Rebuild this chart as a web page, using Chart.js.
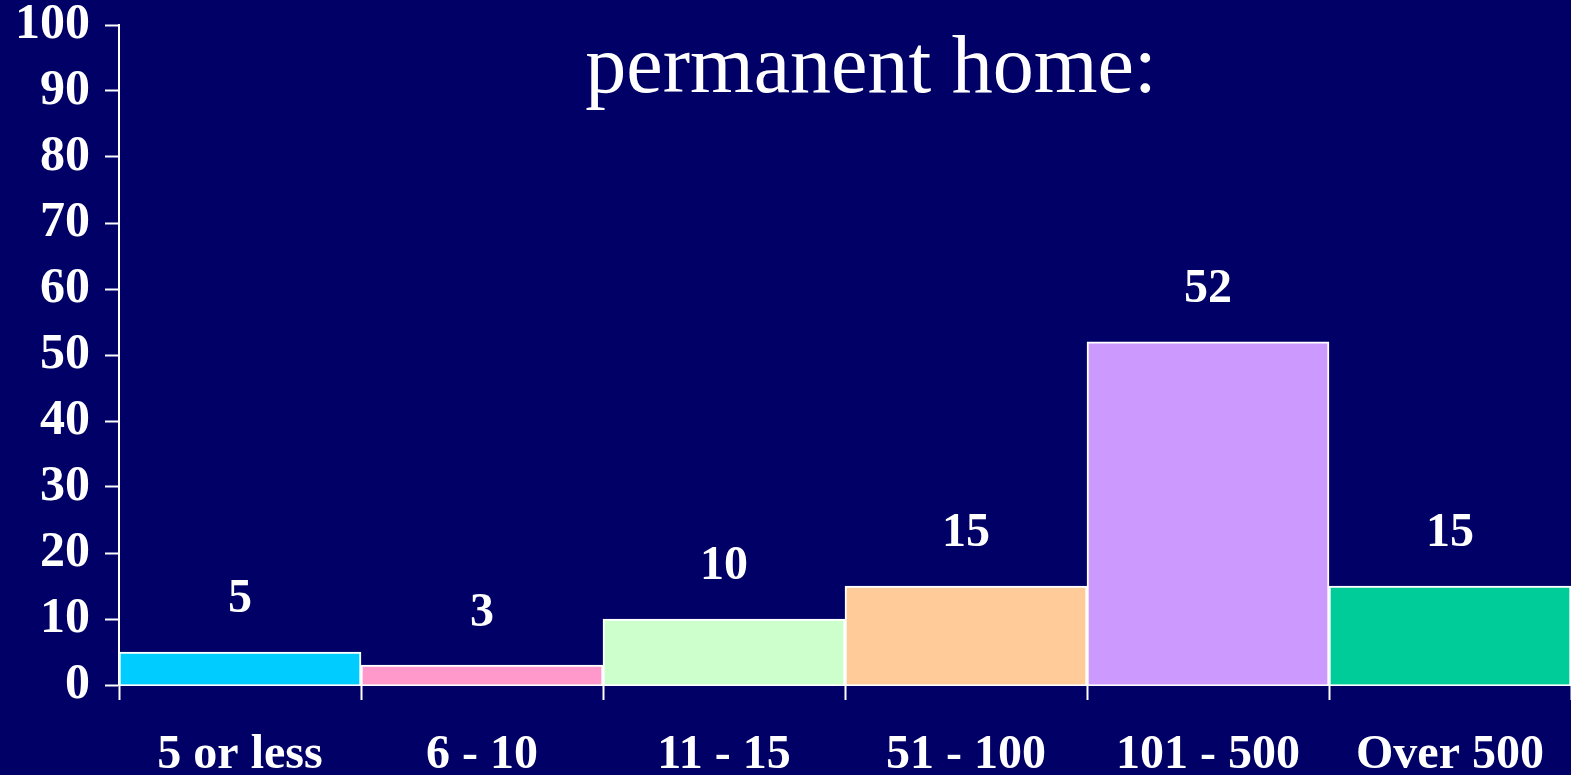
<!DOCTYPE html>
<html>
<head>
<meta charset="utf-8">
<script src="https://cdn.jsdelivr.net/npm/chart.js@4/dist/chart.umd.min.js"></script>
<style>
  html, body { margin: 0; padding: 0; background: #000066; overflow: hidden; }
  canvas { display: block; }
</style>
</head>
<body>
<canvas id="homeChart" width="1571" height="775"></canvas>
<script>
// --- Data ---
const categories = ["5 or less", "6 - 10", "11 - 15", "51 - 100", "101 - 500", "Over 500"];
const values = [5, 3, 10, 15, 52, 15];
const barColors = ["#00CCFF", "#FF99CC", "#CCFFCC", "#FFCC99", "#CC99FF", "#00CC99"];
const titleText = "permanent home:";
const yMin = 0, yMax = 100, yStep = 10;

const serif = '"Liberation Serif", "Times New Roman", serif';

// background + title line (the first title line is cut off in the source)
const slideDecor = {
    id: 'slideDecor',
    beforeDraw(chart) {
        const c = chart.ctx;
        c.save();
        c.fillStyle = '#000066';
        c.fillRect(0, 0, chart.width, chart.height);
        c.restore();
    },
    afterDraw(chart) {
        const c = chart.ctx;
        c.save();
        c.fillStyle = '#ffffff';
        c.font = '82px ' + serif;
        c.textAlign = 'center';
        c.textBaseline = 'alphabetic';
        c.fillText(titleText, 871, 92);
        c.restore();
    }
};

// value labels above each bar
const valueLabels = {
    id: 'valueLabels',
    afterDatasetsDraw(chart) {
        const c = chart.ctx;
        const meta = chart.getDatasetMeta(0);
        c.save();
        c.fillStyle = '#ffffff';
        c.font = 'bold 48px ' + serif;
        c.textAlign = 'center';
        c.textBaseline = 'middle';
        meta.data.forEach((bar, i) => {
            c.fillText(String(values[i]), bar.x, bar.y - 52);
        });
        c.restore();
    }
};

new Chart(document.getElementById('homeChart').getContext('2d'), {
    type: 'bar',
    data: {
        labels: categories,
        datasets: [{
            data: values,
            backgroundColor: barColors,
            borderColor: '#ffffff',
            borderWidth: 2,
            categoryPercentage: 1.0,
            barPercentage: 1.0
        }]
    },
    options: {
        responsive: false,
        animation: false,
        layout: { padding: { top: 25, right: 0, left: 0, bottom: 0 } },
        plugins: {
            legend: { display: false },
            tooltip: { enabled: false },
            title: { display: false }
        },
        scales: {
            y: {
                min: yMin,
                max: yMax,
                ticks: {
                    stepSize: yStep,
                    color: '#ffffff',
                    padding: 15,
                    font: { family: serif, weight: 'bold', size: 50, lineHeight: 1 }
                },
                grid: {
                    drawOnChartArea: false,
                    drawTicks: true,
                    tickLength: 14,
                    tickColor: '#ffffff',
                    tickWidth: 2
                },
                border: { display: true, color: '#ffffff', width: 2 },
                afterFit(scale) {
                    scale.width = 119;
                    scale.paddingTop = 0;
                    scale.paddingBottom = 0;
                }
            },
            x: {
                offset: true,
                ticks: {
                    color: '#ffffff',
                    padding: 32,
                    maxRotation: 0,
                    font: { family: serif, weight: 'bold', size: 48, lineHeight: 1 }
                },
                grid: {
                    offset: true,
                    drawOnChartArea: false,
                    drawTicks: true,
                    tickLength: 15,
                    tickColor: '#ffffff',
                    tickWidth: 2
                },
                border: { display: true, color: '#ffffff', width: 2 },
                afterFit(scale) {
                    scale.height = 90;
                    scale.paddingLeft = 0;
                    scale.paddingRight = 0;
                }
            }
        }
    },
    plugins: [slideDecor, valueLabels]
});
</script>
</body>
</html>
